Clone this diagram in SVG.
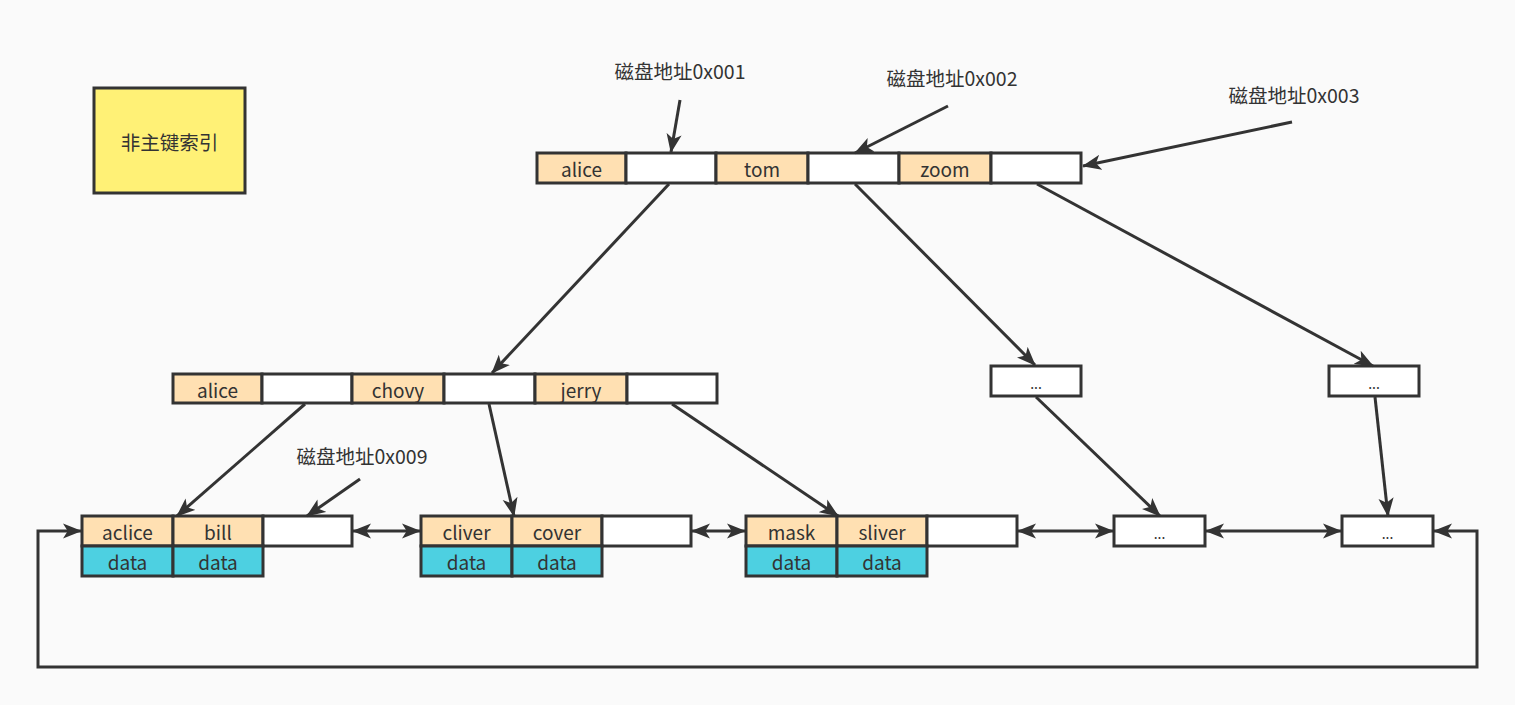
<svg xmlns="http://www.w3.org/2000/svg" width="1515" height="705" viewBox="0 0 1515 705">
<style>
text{font-family:"Noto Sans CJK SC","Liberation Sans",sans-serif;fill:#333;text-anchor:middle;dominant-baseline:central}
.k{fill:#ffe0b2;stroke:#333;stroke-width:3}
.w{fill:#ffffff;stroke:#333;stroke-width:3}
.d{fill:#4dd0e1;stroke:#333;stroke-width:3}
.c{font-size:19px}
.l{font-size:19.5px}
.e{font-size:14px;dominant-baseline:auto}
#edges path{fill:none;stroke:#333;stroke-width:3}
</style>
<defs>
<marker id="a" viewBox="0 0 20 16" refX="19" refY="8" markerWidth="19" markerHeight="16" markerUnits="userSpaceOnUse" orient="auto-start-reverse">
<path d="M0,0 L20,8 L0,16 L5,8 Z" fill="#333"/>
</marker>
</defs>
<rect width="1515" height="705" fill="#fafafa"/>

<g id="legend">
<rect x="94" y="88" width="151" height="105" fill="#fff176" stroke="#333" stroke-width="3"/>
<text x="169.5" y="141" class="l">非主键索引</text>
</g>

<g id="root">
<rect x="537" y="153" width="89" height="30" class="k"/><text x="581.5" y="168" class="c">alice</text>
<rect x="626" y="153" width="90" height="30" class="w"/>
<rect x="716" y="153" width="92" height="30" class="k"/><text x="762" y="168" class="c">tom</text>
<rect x="808" y="153" width="91" height="30" class="w"/>
<rect x="899" y="153" width="92" height="30" class="k"/><text x="945" y="168" class="c">zoom</text>
<rect x="991" y="153" width="90" height="30" class="w"/>
</g>

<g id="mid">
<rect x="173" y="374" width="89" height="29" class="k"/><text x="217.5" y="389" class="c">alice</text>
<rect x="262" y="374" width="90" height="29" class="w"/>
<rect x="352" y="374" width="92" height="29" class="k"/><text x="398" y="389" class="c">chovy</text>
<rect x="444" y="374" width="91" height="29" class="w"/>
<rect x="535" y="374" width="92" height="29" class="k"/><text x="581" y="389" class="c">jerry</text>
<rect x="627" y="374" width="90" height="29" class="w"/>
</g>

<g id="mid2">
<rect x="991" y="366" width="90" height="30" class="w"/><text x="1036" y="389" class="e">...</text>
</g>
<g id="mid3">
<rect x="1329" y="366" width="90" height="30" class="w"/><text x="1374" y="389" class="e">...</text>
</g>

<g id="leaf1">
<rect x="82" y="516" width="91" height="30" class="k"/><text x="127.5" y="531" class="c">aclice</text>
<rect x="173" y="516" width="90" height="30" class="k"/><text x="218" y="531" class="c">bill</text>
<rect x="263" y="516" width="89" height="30" class="w"/>
<rect x="82" y="546" width="91" height="30" class="d"/><text x="127.5" y="561" class="c">data</text>
<rect x="173" y="546" width="90" height="30" class="d"/><text x="218" y="561" class="c">data</text>
</g>

<g id="leaf2">
<rect x="421" y="516" width="91" height="30" class="k"/><text x="466.5" y="531" class="c">cliver</text>
<rect x="512" y="516" width="90" height="30" class="k"/><text x="557" y="531" class="c">cover</text>
<rect x="602" y="516" width="89" height="30" class="w"/>
<rect x="421" y="546" width="91" height="30" class="d"/><text x="466.5" y="561" class="c">data</text>
<rect x="512" y="546" width="90" height="30" class="d"/><text x="557" y="561" class="c">data</text>
</g>

<g id="leaf3">
<rect x="746" y="516" width="91" height="30" class="k"/><text x="791.5" y="531" class="c">mask</text>
<rect x="837" y="516" width="90" height="30" class="k"/><text x="882" y="531" class="c">sliver</text>
<rect x="927" y="516" width="90" height="30" class="w"/>
<rect x="746" y="546" width="91" height="30" class="d"/><text x="791.5" y="561" class="c">data</text>
<rect x="837" y="546" width="90" height="30" class="d"/><text x="882" y="561" class="c">data</text>
</g>

<g id="leaf4">
<rect x="1114" y="516" width="91" height="30" class="w"/><text x="1159.5" y="539" class="e">...</text>
</g>
<g id="leaf5">
<rect x="1342" y="516" width="91" height="30" class="w"/><text x="1387.5" y="539" class="e">...</text>
</g>

<g id="labels">
<text x="680" y="70" class="l">磁盘地址0x001</text>
<text x="952" y="77" class="l">磁盘地址0x002</text>
<text x="1294" y="94" class="l">磁盘地址0x003</text>
<text x="362" y="455" class="l">磁盘地址0x009</text>
</g>

<g id="edges">
<path d="M680,100 L671,152" marker-end="url(#a)"/>
<path d="M948,106 L855,153" marker-end="url(#a)"/>
<path d="M1292,122 L1083,166" marker-end="url(#a)"/>
<path d="M669,184 L492,373" marker-end="url(#a)"/>
<path d="M855,184 L1035,365" marker-end="url(#a)"/>
<path d="M1037,184 L1373,366" marker-end="url(#a)"/>
<path d="M305,404 L177,516" marker-end="url(#a)"/>
<path d="M489,404 L514,516" marker-end="url(#a)"/>
<path d="M672,404 L838,516" marker-end="url(#a)"/>
<path d="M1036,397 L1160,516" marker-end="url(#a)"/>
<path d="M1375,397 L1388,516" marker-end="url(#a)"/>
<path d="M360,479 L307,516" marker-end="url(#a)"/>
<path d="M353,531 L420,531" marker-start="url(#a)" marker-end="url(#a)"/>
<path d="M692,531 L745,531" marker-start="url(#a)" marker-end="url(#a)"/>
<path d="M1018,531 L1113,531" marker-start="url(#a)" marker-end="url(#a)"/>
<path d="M1206,531 L1341,531" marker-start="url(#a)" marker-end="url(#a)"/>
<path d="M81,531 L38,531 L38,667 L1477,667 L1477,531 L1434,531" marker-start="url(#a)" marker-end="url(#a)"/>
</g>
</svg>
